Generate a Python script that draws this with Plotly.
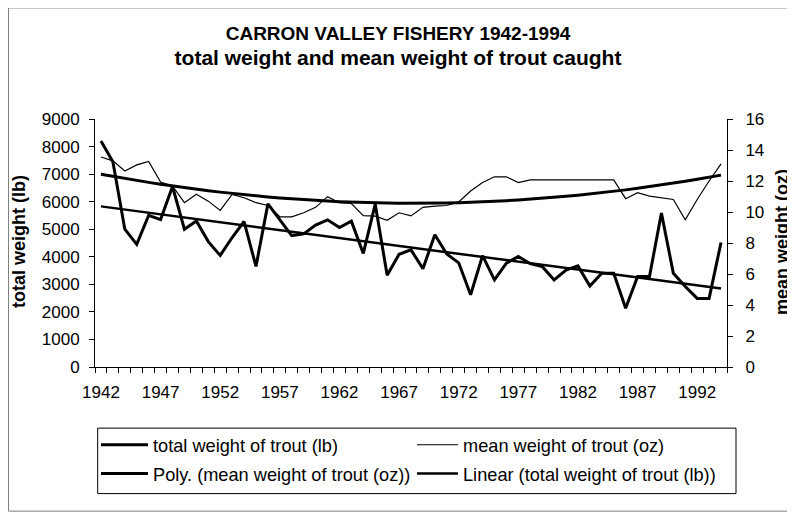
import numpy as np
import plotly.graph_objects as go

years = list(range(1942, 1995))

total_lb = [8200, 7450, 5000, 4450, 5500, 5350, 6550, 5000, 5300, 4550,
            4050, 4700, 5280, 3650, 5920, 5350, 4770, 4830, 5150, 5340,
            5060, 5290, 4120, 5910, 3330, 4090, 4250, 3570, 4800, 4100,
            3780, 2620, 4040, 3160, 3770, 4010, 3750, 3650, 3160, 3520,
            3670, 2940, 3400, 3400, 2130, 3280, 3280, 5590, 3400, 2920,
            2490, 2490, 4520]

mean_oz = [13.55, 13.3, 12.65, 13.04, 13.26, 11.93, 11.68, 10.6, 11.14, 10.7,
           10.1, 11.14, 10.92, 10.6, 10.42, 9.69, 9.69, 9.95, 10.3, 10.99,
           10.6, 10.55, 9.77, 9.73, 9.47, 9.95, 9.75, 10.3, 10.38, 10.42,
           10.65, 11.35, 11.9, 12.27, 12.27, 11.9, 12.07, 12.07, 12.07, 12.07,
           12.07, 12.07, 12.07, 12.07, 10.86, 11.25, 11.03, 10.92, 10.81, 9.5,
           10.81, 12.0, 13.1]

label_years = [1942, 1947, 1952, 1957, 1962, 1967, 1972, 1977, 1982, 1987, 1992]

# trendlines the way the spreadsheet makes them (x = 1..n)
t = np.arange(1, len(years) + 1)
lin_fit = np.polyval(np.polyfit(t, total_lb, 1), t)
poly_fit = np.polyval(np.polyfit(t, mean_oz, 2), t)

FONT = "Liberation Sans, Arial, sans-serif"

fig = go.Figure()
fig.add_trace(go.Scatter(x=years, y=total_lb, mode="lines",
                         name="total weight of trout (lb)",
                         line=dict(color="black", width=3),
                         legend="legend", legendgroup="a"))
fig.add_trace(go.Scatter(x=years, y=poly_fit, mode="lines", yaxis="y2",
                         name="Poly. (mean weight of trout (oz))",
                         line=dict(color="black", width=3),
                         legend="legend", legendgroup="b"))
fig.add_trace(go.Scatter(x=years, y=mean_oz, mode="lines", yaxis="y2",
                         name="mean weight of trout (oz)",
                         line=dict(color="black", width=1.2),
                         legend="legend2", legendgroup="c"))
fig.add_trace(go.Scatter(x=years, y=lin_fit, mode="lines",
                         name="Linear (total weight of trout (lb))",
                         line=dict(color="black", width=2.5),
                         legend="legend2", legendgroup="d"))

# page has an 8px body margin, so the figure is drawn 8px in from the corner
W, H, OFF = 795 - 8, 512 - 8, 8
# plot area on the page: x 95..727, y 119.3..366.7
def px(x):
    return (x - 95) / 632

def py(y):
    return (366.7 - y) / 247.4

leg = dict(orientation="v", xanchor="left", yanchor="top", y=py(426),
           font=dict(family=FONT, size=18.2, color="black"),
           tracegroupgap=2, bgcolor="rgba(0,0,0,0)", borderwidth=0)

tickfont = dict(family=FONT, size=17, color="black")

fig.update_layout(
    width=W, height=H,
    margin=dict(l=95 - OFF, r=795 - 727, t=119.3 - OFF, b=512 - 366.7),
    paper_bgcolor="white", plot_bgcolor="white",
    font=dict(family=FONT, color="black"),
    title=dict(text="<b>CARRON VALLEY FISHERY 1942-1994</b><br>"
                    "<b><span style='font-size:21px'>total weight and mean "
                    "weight of trout caught</span></b>",
               x=(398 - OFF) / W, xref="container", xanchor="center",
               y=1 - 32 / H, yanchor="middle",
               font=dict(family=FONT, size=19, color="black")),
    xaxis=dict(range=[1941.5, 1994.5], tickmode="array",
               tickvals=label_years, ticktext=[str(v) for v in label_years],
               ticks="", ticklabelstandoff=10, showgrid=False, zeroline=False,
               showline=True, linecolor="black", linewidth=1,
               tickfont=tickfont,
               minor=dict(tick0=1941.5, dtick=1, ticks="outside",
                          ticklen=5, tickcolor="black", showgrid=False)),
    yaxis=dict(range=[0, 9000], dtick=1000, showgrid=False, zeroline=False,
               showline=True, linecolor="black", linewidth=1,
               ticks="outside", ticklen=5, tickcolor="black",
               ticklabelstandoff=6, tickfont=tickfont),
    yaxis2=dict(range=[0, 16], dtick=2, overlaying="y", side="right",
                showgrid=False, zeroline=False,
                showline=True, linecolor="black", linewidth=1,
                ticks="outside", ticklen=5, tickcolor="black",
                ticklabelstandoff=9, tickfont=tickfont),
    legend=dict(leg, x=px(96), itemwidth=47),
    legend2=dict(leg, x=px(412), itemwidth=41),
    shapes=[
        dict(type="rect", xref="paper", yref="paper",
             x0=px(97.7), x1=px(736), y0=py(493), y1=py(427.7),
             line=dict(color="black", width=1)),
        dict(type="rect", xref="paper", yref="paper",
             x0=px(OFF + 0.5), x1=px(793), y0=py(510.5), y1=py(OFF + 0.5),
             line=dict(color="#808080", width=1)),
    ],
    annotations=[
        dict(text="<b>total weight (lb)</b>", xref="paper", yref="paper",
             x=px(19), y=py(242), textangle=-90, showarrow=False,
             xanchor="center", yanchor="middle",
             font=dict(family=FONT, size=18, color="black")),
        dict(text="<b>mean weight (oz)</b>", xref="paper", yref="paper",
             x=px(782), y=py(242), textangle=-90, showarrow=False,
             xanchor="center", yanchor="middle",
             font=dict(family=FONT, size=18, color="black")),
    ],
)

fig.write_html("out.html")
